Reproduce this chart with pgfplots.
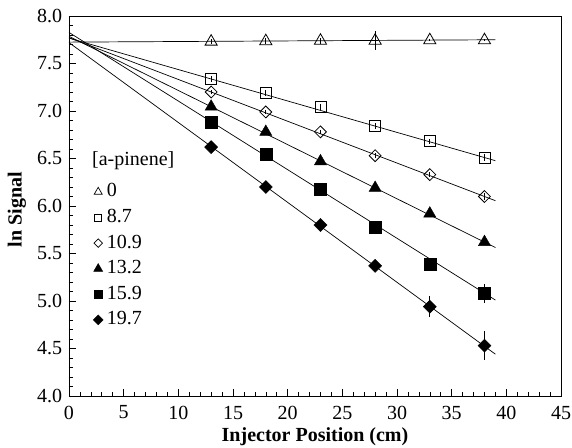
\documentclass[border=0pt]{standalone}
\usepackage{fontspec}
\setmainfont{Liberation Serif}
\usepackage{pgfplots}
\pgfplotsset{compat=1.18}
\begin{document}
\fontsize{20}{24}\selectfont
\begin{tikzpicture}
\useasboundingbox (-69pt,-51pt) rectangle (503pt,396pt);
\begin{axis}[
  at={(0,0)}, anchor=south west,
  scale only axis, width=492pt, height=380pt,
  xmin=0, xmax=45, ymin=4, ymax=8,
  xtick={0,5,...,45}, ytick={4,4.5,...,8},
  minor x tick num=4, minor y tick num=4,
  tick align=inside, tick pos=left,
  major tick length=7pt, minor tick length=4pt,
  every tick/.style={black, line width=0.6pt},
  axis line style={line width=0.9pt},
  /pgf/number format/assume math mode=true,
  yticklabel style={/pgf/number format/fixed, /pgf/number format/fixed zerofill, /pgf/number format/precision=1},
  xticklabel style={yshift=-3pt},
  tick label style={font=\fontsize{20}{24}\selectfont},
  xlabel={\bfseries Injector Position (cm)},
  ylabel={\bfseries ln Signal},
  label style={font=\fontsize{20}{24}\selectfont},
  xlabel style={at={(rel axis cs:0.5,0)}, anchor=center, yshift=-41pt},
  ylabel style={at={(rel axis cs:-0.1057,0.49)}, anchor=center},
  legend style={at={(axis cs:2.2,6.245)}, anchor=north west, draw=none, fill=none, inner sep=0pt, row sep=7.6pt, column sep=0pt, font=\fontsize{20}{24}\selectfont, nodes={inner sep=0pt, inner xsep=3.8pt, text height=14pt, text depth=4pt}},
  legend cell align=left,
  legend image code/.code={\draw[mark repeat=2,mark phase=2,#1] plot coordinates {(0pt,0pt)(4.5pt,0pt)(9pt,0pt)};},
  error bars/error bar style={line width=0.7pt},
  error bars/error mark=none,
]
% fitted lines
\addplot[black, line width=0.7pt, forget plot] coordinates {(0,7.725) (39,7.75)};
\addplot[black, line width=0.7pt, forget plot] coordinates {(0,7.767) (39,6.477)};
\addplot[black, line width=0.7pt, forget plot] coordinates {(0,7.772) (39,6.056)};
\addplot[black, line width=0.7pt, forget plot] coordinates {(0,7.786) (39,5.563)};
\addplot[black, line width=0.7pt, forget plot] coordinates {(0,7.827) (39,5.010)};
\addplot[black, line width=0.7pt, forget plot] coordinates {(0,7.720) (39,4.440)};
% data
\addplot[only marks, forget plot, mark=triangle, mark size=7pt, mark options={line width=0.8pt}, black,
  error bars/.cd, y dir=both, y explicit] coordinates {
  (13,7.73) +- (0,0.03) (18,7.735) +- (0,0.03) (23,7.74) +- (0,0.03)
  (28,7.74) +- (0,0.1) (33,7.745) +- (0,0.01) (38,7.745) +- (0,0.01)};
\addplot[only marks, forget plot, mark=square, mark size=5.5pt, mark options={line width=0.8pt}, black,
  error bars/.cd, y dir=both, y explicit] coordinates {
  (13,7.337) +- (0,0.03) (18,7.19) +- (0,0.03) (23,7.045) +- (0,0.03)
  (28,6.845) +- (0,0.03) (33,6.68) +- (0,0.03) (38,6.51) +- (0,0.04)};
\addplot[only marks, forget plot, mark=square, mark size=4.2pt, mark options={line width=0.8pt, rotate=45}, black,
  error bars/.cd, y dir=both, y explicit] coordinates {
  (13,7.20) +- (0,0.02) (18,6.99) +- (0,0.02) (23,6.78) +- (0,0.02)
  (28,6.53) +- (0,0.03) (33,6.33) +- (0,0.03) (38,6.10) +- (0,0.04)};
\addplot[only marks, forget plot, mark=triangle*, mark size=7pt, mark options={fill=black}, black,
  error bars/.cd, y dir=both, y explicit] coordinates {
  (13,7.045) +- (0,0.02) (18,6.78) +- (0,0.02) (23,6.47) +- (0,0.02)
  (28,6.19) +- (0,0.02) (33,5.92) +- (0,0.03) (38,5.62) +- (0,0.03)};
\addplot[only marks, forget plot, mark=square*, mark size=6pt, mark options={fill=black}, black,
  error bars/.cd, y dir=both, y explicit] coordinates {
  (13,6.887) +- (0,0.02) (18,6.54) +- (0,0.02) (23,6.175) +- (0,0.02)
  (28,5.78) +- (0,0.03) (33,5.39) +- (0,0.04) (38,5.08) +- (0,0.10)};
\addplot[only marks, forget plot, mark=square*, mark size=4.6pt, mark options={fill=black, rotate=45}, black,
  error bars/.cd, y dir=both, y explicit] coordinates {
  (13,6.62) +- (0,0.02) (18,6.20) +- (0,0.02) (23,5.80) +- (0,0.02)
  (28,5.37) +- (0,0.04) (33,4.94) +- (0,0.11) (38,4.53) +- (0,0.155)};
% legend
\addlegendimage{only marks, black, mark=triangle, mark size=4.6pt, mark options={line width=0.7pt}}
\addlegendentry{0}
\addlegendimage{only marks, black, mark=square, mark size=3.6pt, mark options={line width=0.7pt}}
\addlegendentry{8.7}
\addlegendimage{only marks, black, mark=square, mark size=3.0pt, mark options={line width=0.7pt, rotate=45}}
\addlegendentry{10.9}
\addlegendimage{only marks, black, mark=triangle*, mark size=5.2pt, mark options={fill=black}}
\addlegendentry{13.2}
\addlegendimage{only marks, black, mark=square*, mark size=4pt, mark options={fill=black}}
\addlegendentry{15.9}
\addlegendimage{only marks, black, mark=square*, mark size=3.5pt, mark options={fill=black, rotate=45}}
\addlegendentry{19.7}
\node[anchor=west, inner sep=0pt, font=\fontsize{20}{24}\selectfont] at (axis cs:2.1,6.48) {[a-pinene]};
\end{axis}
\end{tikzpicture}
\end{document}
